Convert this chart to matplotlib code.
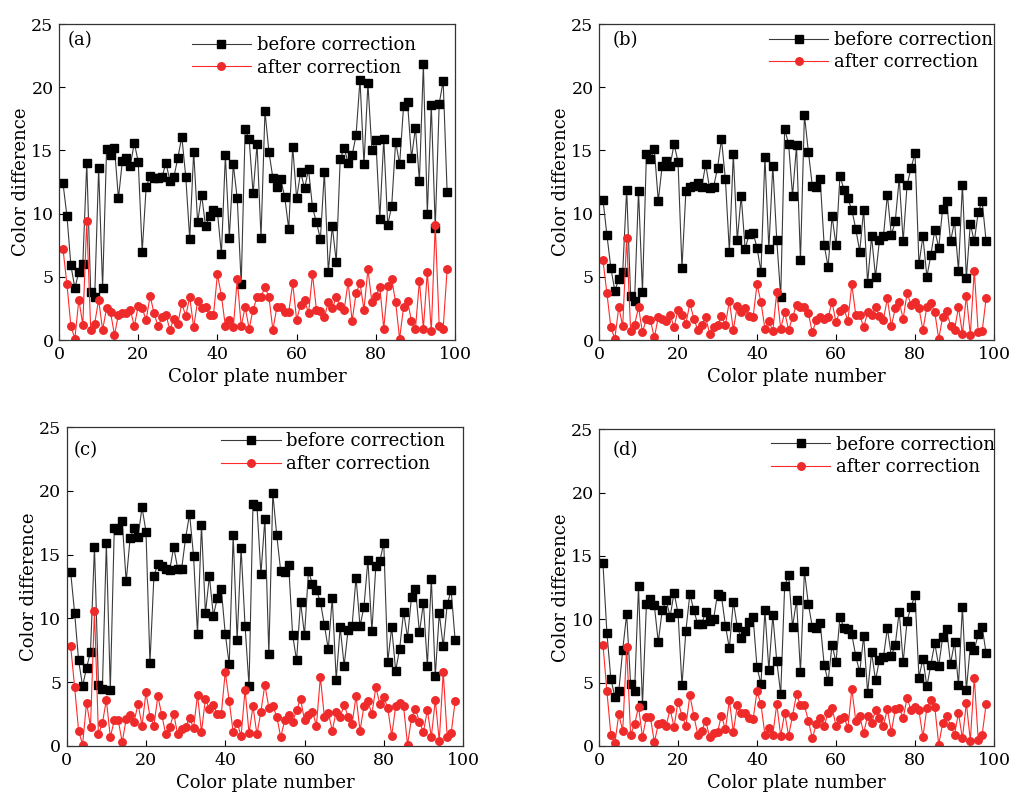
import matplotlib
matplotlib.use('Agg')
import matplotlib.pyplot as plt
import numpy as np

plt.rcParams['font.family'] = ['DejaVu Serif']
plt.rcParams['mathtext.fontset'] = 'dejavuserif'

# colour difference of each colour plate
a_before = [12.4, 9.8, 5.9, 4.1, 5.4, 6.0, 14.0, 3.8, 3.4, 13.6,
            4.1, 15.1, 14.6, 15.2, 11.2, 14.2, 14.4, 13.8, 15.6, 14.1,
            7.0, 12.1, 13.0, 12.8, 12.8, 12.9, 14.0, 12.6, 12.9, 14.4,
            16.1, 12.9, 8.0, 14.9, 9.3, 11.5, 9.0, 9.8, 10.3, 10.1,
            6.8, 14.6, 8.1, 13.9, 11.2, 4.4, 16.7, 15.9, 11.6, 15.5,
            8.1, 18.1, 14.9, 12.8, 12.1, 12.7, 11.3, 8.8, 15.3, 11.2,
            13.3, 12.0, 13.5, 10.5, 9.3, 8.0, 13.3, 5.4, 9.0, 6.2,
            14.3, 15.2, 14.0, 14.6, 16.2, 20.6, 13.9, 20.3, 15.0, 15.8,
            9.6, 15.9, 9.1, 10.6, 15.7, 13.9, 18.5, 18.8, 14.4, 16.8,
            12.6, 21.8, 10.0, 18.6, 8.9, 18.7, 20.5, 11.7]
a_after = [7.2, 4.4, 1.1, 0.1, 3.2, 1.2, 9.4, 0.8, 1.3, 3.2,
           0.8, 2.5, 2.2, 0.4, 2.0, 2.1, 2.1, 2.4, 1.1, 2.7,
           2.5, 1.6, 3.5, 2.1, 1.1, 1.8, 2.0, 0.8, 1.7, 1.3,
           2.9, 1.9, 3.4, 1.0, 3.1, 2.5, 2.6, 2.0, 2.0, 5.2,
           3.5, 1.1, 1.6, 1.0, 4.8, 1.1, 2.6, 0.9, 2.4, 3.4,
           3.4, 4.2, 3.4, 0.8, 2.6, 2.6, 2.2, 2.2, 4.5, 1.6,
           2.8, 3.2, 2.1, 5.2, 2.4, 2.3, 1.8, 3.0, 2.5, 3.4,
           2.7, 2.4, 4.6, 1.5, 3.7, 4.5, 2.4, 5.6, 3.0, 3.5,
           4.2, 0.9, 4.3, 4.8, 3.0, 0.1, 2.6, 3.1, 1.5, 0.9,
           4.7, 0.9, 5.4, 0.7, 9.1, 1.1, 0.9, 5.6]

b_before = [11.1, 8.3, 5.7, 3.9, 4.8, 5.4, 11.9, 3.5, 3.1, 11.8,
            3.8, 14.7, 14.3, 15.1, 11.0, 13.8, 14.2, 13.8, 15.5, 14.1,
            5.7, 11.8, 12.1, 12.2, 12.4, 12.1, 13.9, 12.0, 12.1, 13.6,
            15.9, 12.7, 7.0, 14.7, 7.9, 11.4, 7.2, 8.4, 8.5, 7.3,
            5.4, 14.5, 7.2, 13.8, 7.9, 3.4, 16.7, 15.5, 11.4, 15.4,
            6.3, 17.8, 14.9, 12.2, 12.1, 12.7, 7.5, 5.8, 9.8, 7.5,
            13.0, 11.9, 11.2, 10.3, 8.8, 7.0, 10.3, 4.5, 8.2, 5.0,
            7.9, 8.2, 11.5, 8.3, 9.4, 12.8, 7.8, 12.3, 13.6, 14.8,
            6.0, 8.2, 5.0, 6.7, 8.7, 7.3, 10.4, 11.0, 7.8, 9.4,
            5.5, 12.3, 4.9, 9.2, 7.8, 10.1, 11.0, 7.8]
b_after = [6.3, 3.7, 1.0, 0.1, 2.6, 1.1, 8.1, 0.7, 1.2, 2.6,
           0.6, 1.7, 1.6, 0.2, 1.8, 1.7, 1.5, 2.0, 1.0, 2.4,
           2.0, 1.3, 2.9, 1.7, 0.8, 1.2, 1.8, 0.5, 1.0, 1.2,
           1.9, 1.2, 3.1, 0.8, 2.7, 2.2, 2.5, 1.9, 1.8, 4.4,
           3.0, 0.9, 1.5, 0.7, 3.8, 0.9, 2.2, 0.8, 1.8, 2.8,
           2.6, 2.6, 2.1, 0.6, 1.6, 1.8, 1.7, 1.8, 3.0, 1.4,
           2.3, 2.5, 1.5, 4.4, 2.0, 2.0, 1.0, 2.2, 2.0, 2.6,
           1.9, 1.6, 3.3, 1.1, 2.5, 3.0, 1.7, 3.7, 2.8, 3.0,
           2.5, 0.8, 2.6, 2.9, 2.2, 0.1, 1.8, 2.3, 1.1, 0.8,
           2.6, 0.5, 3.5, 0.4, 5.5, 0.6, 0.7, 3.3]

c_before = [13.6, 10.4, 6.7, 4.7, 6.1, 7.4, 15.6, 4.8, 4.5, 15.9,
            4.4, 17.1, 16.9, 17.6, 12.9, 16.3, 17.1, 16.4, 18.7, 16.8,
            6.5, 13.3, 14.3, 14.1, 13.9, 13.8, 15.6, 13.9, 13.9, 16.3,
            18.2, 14.9, 8.8, 17.3, 10.4, 13.3, 10.2, 11.6, 12.3, 8.8,
            6.4, 16.5, 8.3, 15.5, 9.4, 4.7, 19.0, 18.8, 13.5, 17.8,
            7.2, 19.8, 16.5, 13.7, 13.6, 14.2, 8.7, 6.7, 11.3, 8.7,
            13.7, 12.7, 12.2, 11.3, 9.5, 7.6, 11.6, 5.2, 9.3, 6.3,
            9.1, 9.4, 13.2, 9.4, 10.9, 14.6, 9.0, 14.1, 14.5, 15.9,
            6.6, 9.3, 5.9, 7.6, 10.5, 8.5, 11.7, 12.3, 8.9, 11.2,
            6.3, 13.1, 5.5, 10.4, 7.8, 11.1, 12.2, 8.3]
c_after = [7.8, 4.6, 1.2, 0.1, 3.4, 1.5, 10.6, 0.9, 1.8, 3.6,
           0.7, 2.0, 2.0, 0.3, 2.1, 2.4, 1.9, 3.3, 1.6, 4.2,
           2.3, 1.6, 3.9, 2.4, 0.9, 1.5, 2.5, 0.9, 1.3, 1.5,
           2.2, 1.4, 4.0, 1.1, 3.7, 2.9, 3.2, 2.5, 2.5, 5.8,
           3.5, 1.1, 1.8, 0.8, 4.4, 1.0, 3.1, 0.9, 2.7, 4.8,
           3.0, 3.1, 2.3, 0.7, 2.0, 2.4, 1.9, 2.8, 3.7, 2.0,
           2.4, 2.7, 1.6, 5.4, 2.3, 2.6, 1.2, 2.7, 2.3, 3.2,
           2.3, 1.7, 3.9, 1.2, 3.1, 3.5, 2.5, 4.6, 3.3, 3.8,
           3.0, 0.8, 3.1, 3.4, 3.1, 0.1, 2.2, 2.9, 1.9, 1.1,
           2.8, 0.7, 3.6, 0.4, 5.8, 0.7, 1.0, 3.5]

d_before = [14.4, 8.9, 5.3, 3.9, 4.3, 7.6, 10.4, 4.9, 4.3, 12.6,
            3.2, 11.2, 11.6, 11.1, 8.2, 10.7, 11.5, 10.2, 12.1, 10.5,
            4.8, 9.1, 12.0, 10.7, 9.6, 9.6, 10.6, 9.9, 10.0, 12.0,
            11.8, 9.5, 7.7, 11.4, 9.4, 8.5, 9.1, 9.8, 10.2, 6.2,
            4.9, 10.7, 6.0, 10.3, 6.7, 4.1, 12.6, 13.5, 9.4, 11.5,
            5.8, 13.8, 11.2, 9.4, 9.3, 9.7, 6.4, 5.1, 8.0, 6.6,
            10.2, 9.3, 9.2, 8.8, 7.1, 5.8, 8.7, 4.2, 7.4, 5.2,
            6.8, 7.0, 9.3, 7.1, 8.0, 10.6, 6.6, 9.9, 11.0, 11.9,
            5.4, 6.9, 4.7, 6.4, 8.1, 6.3, 8.6, 9.2, 6.5, 8.2,
            4.8, 11.0, 4.4, 7.9, 7.6, 8.8, 9.4, 7.3]
d_after = [8.0, 4.3, 0.9, 0.2, 2.5, 1.2, 7.8, 0.9, 1.7, 3.1,
           0.7, 2.3, 2.3, 0.3, 1.7, 1.8, 1.6, 2.9, 1.5, 3.5,
           2.4, 1.6, 4.0, 2.4, 0.9, 1.2, 2.0, 0.7, 1.0, 1.1,
           2.4, 1.3, 3.6, 1.1, 3.2, 2.6, 2.6, 2.2, 2.1, 4.3,
           3.3, 0.9, 1.4, 0.9, 3.3, 0.8, 2.6, 0.8, 2.4, 4.1,
           3.2, 3.2, 2.0, 0.6, 1.7, 2.2, 1.6, 2.6, 3.0, 1.6,
           2.1, 2.3, 1.4, 4.5, 2.0, 2.4, 1.0, 2.4, 1.8, 2.8,
           2.2, 1.6, 2.9, 1.1, 2.9, 3.0, 2.2, 3.8, 2.8, 3.1,
           2.8, 0.7, 3.0, 3.6, 3.1, 0.1, 1.8, 2.4, 1.6, 0.9,
           2.6, 0.6, 3.4, 0.4, 5.4, 0.5, 0.9, 3.3]

panels = ['(a)', '(b)', '(c)', '(d)']
x_ticks = [0, 20, 40, 60, 80, 100]
y_ticks = [0, 5, 10, 15, 20, 25]

fig = plt.figure(figsize=(10.11, 7.98), dpi=100)

# [left, bottom, width, height] in figure fraction, legend anchor, label position
boxes = [
    ([0.0584, 0.5739, 0.3917, 0.3960], (0.335, 0.962), (0.022, 0.95)),
    ([0.5925, 0.5739, 0.3907, 0.3960], (0.430, 0.978), (0.035, 0.95)),
    ([0.0660, 0.0652, 0.3920, 0.3997], (0.390, 0.983), (0.018, 0.928)),
    ([0.5925, 0.0652, 0.3907, 0.3970], (0.435, 0.980), (0.035, 0.934)),
]
series = [(a_before, a_after), (b_before, b_after),
          (c_before, c_after), (d_before, d_after)]

for (rect, leg_pos, lab_pos), (before, after), name in zip(boxes, series, panels):
    ax = fig.add_axes(rect)
    x = np.arange(1, len(before) + 1)
    ax.plot(x, before, color='#3a3a3a', lw=0.8, marker='s', ms=5.8,
            mfc='black', mec='black', label='before correction')
    ax.plot(x, after, color='#ff2a2a', lw=0.8, marker='o', ms=5.4,
            mfc='#ee2a2a', mec='#ee2a2a', label='after correction')

    ax.set_xlim(0, 100)
    ax.set_ylim(0, 25)
    ax.set_xticks(x_ticks)
    ax.set_yticks(y_ticks)
    ax.tick_params(direction='in', length=4, width=0.8, labelsize=12.5, pad=4)
    for s in ax.spines.values():
        s.set_linewidth(0.9)
        s.set_color('#333333')

    ax.set_xlabel('Color plate number', fontsize=13, labelpad=4)
    ax.set_ylabel('Color difference', fontsize=13, labelpad=1)

    ax.text(lab_pos[0], lab_pos[1], name, transform=ax.transAxes,
            fontsize=13, ha='left', va='center')

    ax.legend(loc='upper left', bbox_to_anchor=leg_pos, frameon=False,
              fontsize=13, handlelength=3.3, handletextpad=0.3,
              borderpad=0, borderaxespad=0, labelspacing=0.25)

fig.savefig('out.png', dpi=100)
